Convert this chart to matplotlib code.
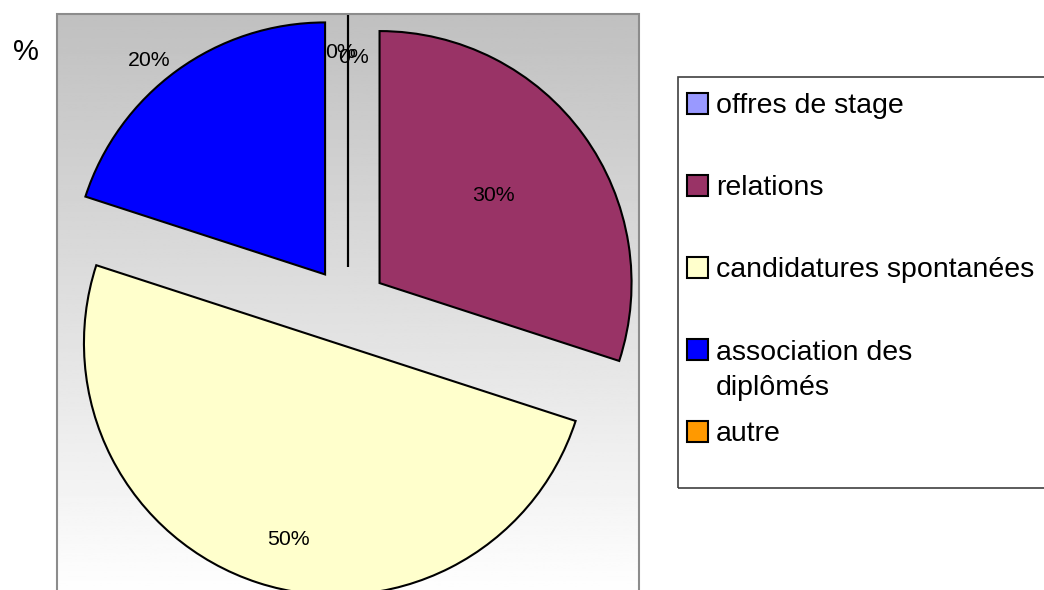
import numpy as np
import matplotlib
matplotlib.use("Agg")
import matplotlib.pyplot as plt
from matplotlib.patches import Rectangle

# data
categories = ["offres de stage", "relations", "candidatures spontanées",
              "association des\ndiplômés", "autre"]
values = [0, 30, 50, 20, 0]
colors = ["#9999FF", "#993366", "#FFFFCC", "#0000FF", "#FF9900"]

# label placement (fraction of radius, clockwise tweak in degrees)
lab_r = [0.85, 0.57, 0.80, 1.10, 0.83]
lab_t = [-1.9, -1.8, -4.5, -3.4, 1.6]

plt.rcParams['font.family'] = ['Liberation Sans', 'DejaVu Sans']

W, H = 1044, 590
fig = plt.figure(figsize=(W / 100, H / 100), dpi=100)
ax = fig.add_axes([0, 0, 1, 1])

# plot area: gray to white gradient
px0, px1, py_top, py_bot = 57, 639, 14, 600
grad = np.linspace(0.753, 1.0, 256).reshape(-1, 1)
ax.imshow(grad, cmap='gray', vmin=0, vmax=1, aspect='auto', origin='upper',
          extent=(px0, px1, H - py_bot, H - py_top), zorder=0)
ax.add_patch(Rectangle((px0, H - py_bot), px1 - px0, py_bot - py_top,
                       fill=False, edgecolor='#8c8c8c', lw=1.5, zorder=1))

wedges, _ = ax.pie(values, colors=colors, startangle=90, counterclock=False,
                   explode=[39] * len(values), radius=252, center=(348, H - 306),
                   wedgeprops=dict(edgecolor='black', linewidth=1.5, zorder=2))

for w, v, r, t in zip(wedges, values, lab_r, lab_t):
    th = np.deg2rad((w.theta1 + w.theta2) / 2 - t)
    cx, cy = w.center
    ax.text(cx + r * w.r * np.cos(th), cy + r * w.r * np.sin(th), "%d%%" % v,
            ha='center', va='center', fontsize=15.3, zorder=3)

ax.text(26, H - 52, "%", fontsize=21, ha='center', va='center')

# legend
ax.add_patch(Rectangle((678, H - 488), 400, 411, fill=False,
                       edgecolor='#404040', lw=1.2))
for i, (lab, c) in enumerate(zip(categories, colors)):
    yc = H - (103 + 82 * i)
    nlines = lab.count("\n")
    ax.add_patch(Rectangle((687, yc - 10.5), 21, 21, facecolor=c,
                           edgecolor='black', lw=1.5))
    # baseline of the last line, so first line sits next to the marker
    ax.text(716, yc - 10 - 36 * nlines, lab, fontsize=20.5, ha='left',
            va='baseline', linespacing=1.44)

ax.set_xlim(0, W)
ax.set_ylim(0, H)
ax.set_aspect('auto')
ax.axis('off')

fig.savefig("out.png", dpi=100)
plt.close('all')
